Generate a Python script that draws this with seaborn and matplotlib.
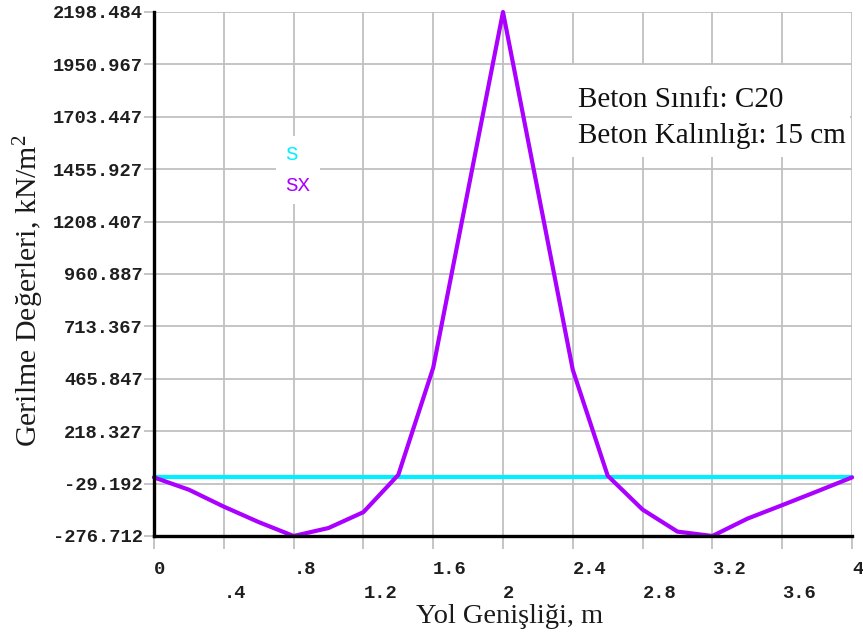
import matplotlib
matplotlib.use("Agg")
import matplotlib.pyplot as plt
import seaborn as sns
import pandas as pd
from matplotlib.lines import Line2D
from matplotlib.patches import Rectangle
from matplotlib.font_manager import FontProperties

# Road width positions (m) and stresses (kN/m^2)
x_pos = [0.0, 0.2, 0.4, 0.6, 0.8, 1.0, 1.2, 1.4, 1.6, 2.0,
         2.4, 2.6, 2.8, 3.0, 3.2, 3.4, 3.6, 3.8, 4.0]
sx_vals = [0.0, -58.0, -138.0, -211.0, -276.712, -239.0, -164.0, 12.0, 518.0, 2198.484,
           508.0, 8.0, -152.0, -256.0, -276.712, -195.0, -131.0, -66.0, 0.0]
s_pos = [0.0, 4.0]
s_vals = [0.0, 0.0]

y_ticks = [2198.484, 1950.967, 1703.447, 1455.927, 1208.407, 960.887,
           713.367, 465.847, 218.327, -29.192, -276.712]
y_tick_labels = ["2198.484", "1950.967", "1703.447", "1455.927", "1208.407", "960.887",
                 "713.367", "465.847", "218.327", "-29.192", "-276.712"]
x_major = [0.0, 0.8, 1.6, 2.4, 3.2, 4.0]
x_major_labels = ["0", ".8", "1.6", "2.4", "3.2", "4"]
x_minor = [0.4, 1.2, 2.0, 2.8, 3.6]
x_minor_labels = [".4", "1.2", "2", "2.8", "3.6"]

series_names = ["S", "SX"]
series_colors = ["#00f0ff", "#aa00ff"]

note_lines = ["Beton Sınıfı: C20", "Beton Kalınlığı: 15 cm"]

sns.set_style("white")
plt.rcParams["font.family"] = ["Liberation Serif", "DejaVu Serif"]
plt.rcParams["mathtext.default"] = "regular"

W, H = 863, 640
fig = plt.figure(figsize=(W / 100, H / 100), dpi=100)
left, right, top, bottom = 154, 852, 12, 536
ax = fig.add_axes([left / W, 1 - bottom / H, (right - left) / W, (bottom - top) / H])

df_s = pd.DataFrame({"x": s_pos, "y": s_vals})
df_sx = pd.DataFrame({"x": x_pos, "y": sx_vals})
sns.lineplot(data=df_s, x="x", y="y", ax=ax, color=series_colors[0], lw=3.0,
             sort=False, clip_on=False, zorder=3)
sns.lineplot(data=df_sx, x="x", y="y", ax=ax, color=series_colors[1], lw=3.0,
             sort=False, clip_on=False, zorder=4)

ax.set_xlim(0, 4)
ax.set_ylim(y_ticks[-1], y_ticks[0])

grid_col = "#c0c0c0"
mono = FontProperties(family=["Liberation Mono", "DejaVu Sans Mono"], size=13.5, weight="bold")

ax.set_yticks(y_ticks, labels=y_tick_labels)
ax.set_xticks(x_major, labels=x_major_labels)
ax.set_xticks(x_minor, labels=x_minor_labels, minor=True)
for lab in ax.get_yticklabels():
    lab.set_fontproperties(mono)
    lab.set_color("#1e1e1e")
for lab in ax.get_xticklabels() + ax.get_xticklabels(minor=True):
    lab.set_fontproperties(mono)
    lab.set_color("#1e1e1e")
    lab.set_horizontalalignment("left")

ax.tick_params(axis="y", direction="out", length=7, width=1.3, color=grid_col, pad=1, left=True)
ax.tick_params(axis="x", which="major", direction="out", length=9, width=1.3,
               color=grid_col, pad=9, bottom=True)
ax.tick_params(axis="x", which="minor", direction="out", length=9, width=1.3,
               color=grid_col, pad=26, bottom=True)

ax.grid(True, which="both", color=grid_col, lw=1.3)
ax.set_axisbelow(True)
for side in ["top", "right"]:
    ax.spines[side].set_visible(False)
for side in ["left", "bottom"]:
    ax.spines[side].set_color("black")
    ax.spines[side].set_linewidth(2.4)
    ax.spines[side].set_zorder(5)

ax.set_xlabel("")
ax.set_ylabel("")

# Series key: coloured names only
handles = [Line2D([], [], color=c, lw=0) for c in series_colors]
leg_font = FontProperties(family=["Liberation Mono", "DejaVu Sans Mono"], size=15)
leg = ax.legend(handles, series_names, loc="upper left",
                bbox_to_anchor=(276 / W, 1 - 136 / H), bbox_transform=fig.transFigure,
                handlelength=0, handletextpad=0, labelcolor=series_colors,
                prop=leg_font,
                frameon=True, facecolor="white", edgecolor="none", framealpha=1,
                labelspacing=0.55, borderpad=0.45, borderaxespad=0)
leg.set_zorder(6)

# Concrete class / thickness note on a white panel
fig.add_artist(Rectangle((572 / W, 1 - 157 / H), (850 - 572) / W, (157 - 65) / H,
                         transform=fig.transFigure, facecolor="white",
                         edgecolor="none", zorder=2))
for line, base in zip(note_lines, [107, 143]):
    fig.text(578 / W, 1 - base / H, line, ha="left", va="baseline",
             fontsize=21, color="#111111", zorder=3)

fig.text(29 / W, 1 - 291 / H, "Gerilme Değerleri, kN/m$^2$", rotation=90,
         ha="center", va="center", fontsize=21.5, color="#1a1a1a")
fig.text(510 / W, 1 - 623 / H, "Yol Genişliği, m",
         ha="center", va="baseline", fontsize=20.5, color="#1a1a1a")

fig.savefig("out.png", dpi=100)
